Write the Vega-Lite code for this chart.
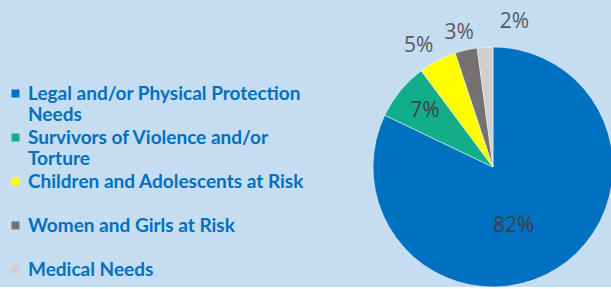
{
  "$schema": "https://vega.github.io/schema/vega-lite/v6.json",
  "width": 240,
  "height": 240,
  "autosize": {"type": "none"},
  "padding": {"left": 373, "top": 47, "right": 0, "bottom": 0},
  "background": "#C5DDF0",
  "config": {"view": {"stroke": null}},
  "data": {
    "values": [
      {"category": "Legal and/or Physical Protection Needs", "value": 82.1, "label": "82%", "rank": 1},
      {"category": "Survivors of Violence and/or Torture", "value": 7.7, "label": "7%", "rank": 2},
      {"category": "Children and Adolescents at Risk", "value": 5.1, "label": "5%", "rank": 3},
      {"category": "Women and Girls at Risk", "value": 3.0, "label": "3%", "rank": 4},
      {"category": "Medical Needs", "value": 2.1, "label": "2%", "rank": 5}
    ]
  },
  "encoding": {
    "theta": {"field": "value", "type": "quantitative", "stack": true},
    "order": {"field": "rank", "type": "quantitative"}
  },
  "layer": [
    {
      "mark": {"type": "arc", "stroke": "#ffffff", "strokeWidth": 0.5},
      "encoding": {
        "color": {
          "field": "category",
          "type": "nominal",
          "scale": {
            "domain": ["Legal and/or Physical Protection Needs", "Survivors of Violence and/or Torture", "Children and Adolescents at Risk", "Women and Girls at Risk", "Medical Needs"],
            "range": ["#0070C0", "#12AE8C", "#FFFF00", "#767171", "#D0CECE"]
          },
          "legend": {
            "orient": "none",
            "legendX": -367,
            "legendY": 37,
            "title": null,
            "symbolType": "square",
            "symbolSize": 64,
            "symbolStrokeWidth": 0,
            "labelFont": "Lato",
            "labelFontSize": 19,
            "labelFontWeight": "bold",
            "labelColor": "#0070C0",
            "labelLimit": 400,
            "labelOffset": 3,
            "rowPadding": 3,
            "labelExpr": "datum.label == 'Legal and/or Physical Protection Needs' ? ['Legal and/or Physical Protection', 'Needs'] : datum.label == 'Survivors of Violence and/or Torture' ? ['Survivors of Violence and/or', 'Torture'] : [datum.label, '']"
          }
        }
      }
    },
    {
      "mark": {"type": "text", "radius": 63, "dx": -13, "dy": 6, "font": "Open Sans", "fontSize": 21, "color": "#404040"},
      "encoding": {
        "text": {"condition": {"test": "datum.rank == 1", "field": "label"}, "value": ""}
      }
    },
    {
      "mark": {"type": "text", "radius": 88, "font": "Open Sans", "fontSize": 21, "color": "#404040"},
      "encoding": {
        "text": {"condition": {"test": "datum.rank == 2", "field": "label"}, "value": ""}
      }
    },
    {
      "mark": {"type": "text", "radius": 137, "dx": -11, "font": "Open Sans", "fontSize": 21, "color": "#595959"},
      "encoding": {
        "text": {"condition": {"test": "datum.rank == 3", "field": "label"}, "value": ""}
      }
    },
    {
      "mark": {"type": "text", "radius": 137, "dx": -3, "font": "Open Sans", "fontSize": 21, "color": "#595959"},
      "encoding": {
        "text": {"condition": {"test": "datum.rank == 4", "field": "label"}, "value": ""}
      }
    },
    {
      "mark": {"type": "text", "radius": 145, "dx": 31, "font": "Open Sans", "fontSize": 21, "color": "#595959"},
      "encoding": {
        "text": {"condition": {"test": "datum.rank == 5", "field": "label"}, "value": ""}
      }
    }
  ]
}
